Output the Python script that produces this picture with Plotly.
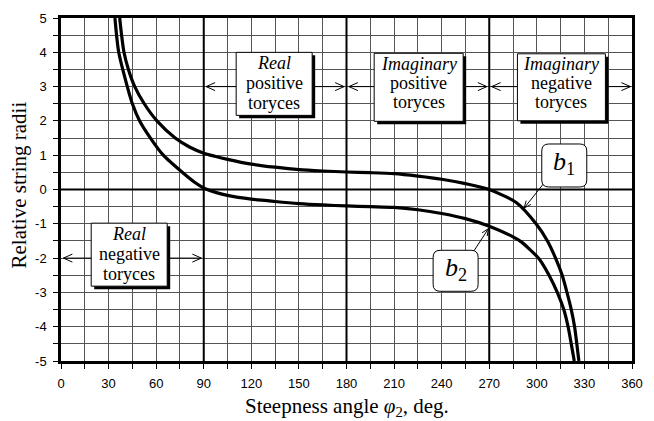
import math
import plotly.graph_objects as go

# Relative string radii b1, b2 versus steepness angle phi2 (deg)
phi_b1 = [37, 38.2, 39.7, 42.5, 46.5, 52.5, 60.5, 72, 81, 90, 97, 105, 120,
          135, 150, 165, 180, 195, 210, 225, 240, 255, 270, 287, 299.5, 306.7,
          311.8, 316, 319, 321.7, 323.8, 325.2, 326.5]
b1 = [5, 4.5, 4, 3.5, 3, 2.5, 2, 1.5, 1.24, 1.06, 0.97, 0.88, 0.74,
      0.65, 0.58, 0.54, 0.51, 0.49, 0.46, 0.39, 0.30, 0.17, 0.0, -0.38, -1.0,
      -1.5, -2, -2.5, -3, -3.5, -4, -4.5, -5]

phi_b2 = [34, 36.4, 41.8, 45, 49.6, 56.4, 64.5, 77, 84, 91, 98, 105, 120,
          135, 150, 165, 180, 195, 210, 225, 240, 255, 270, 285, 290, 301,
          307.7, 312.9, 317, 319.7, 321.7, 323.6]
b2 = [5, 4, 3, 2.5, 2, 1.5, 1, 0.48, 0.22, 0.02, -0.09, -0.17, -0.28,
      -0.35, -0.41, -0.45, -0.48, -0.5, -0.52, -0.59, -0.70, -0.85, -1.07,
      -1.38, -1.52, -2, -2.5, -3, -3.5, -4, -4.5, -5]

x_ticks = list(range(0, 361, 30))
y_ticks = list(range(-5, 6))

# Toryce regions along the angle axis
region_kind = ["Real", "Real", "Imaginary", "Imaginary"]
region_sign = ["negative", "positive", "positive", "negative"]
region_cx = [43.0, 134.4, 225.5, 315.5]
region_cy = [-1.9, 3.08, 2.98, 2.98]
region_w = [76, 76, 89, 88]
region_h = [63, 63, 68, 67]
span_from = [1.5, 91.5, 181.5, 271.5]
span_to = [88.5, 178.5, 268.5, 359.0]
span_y = [-2, 3, 3, 3]

# Curve labels with pointers
label_text = ["<i>b</i><sub>1</sub>", "<i>b</i><sub>2</sub>"]
label_cx = [317.3, 248.8]
label_cy = [0.7, -2.37]
label_w = [45, 45]
label_h = [43, 41]
tip_x = [292.0, 269.5]
tip_y = [-0.54, -1.14]
tail_dx = [20, -15]   # pixels, x to the right
tail_dy = [25, -23]   # pixels, y upwards

SERIF = "Liberation Serif"
SANS = "Liberation Sans"
GRID = "#555555"

fig = go.Figure()
fig.add_trace(go.Scatter(x=phi_b1, y=b1, mode="lines", name="b1",
                         line=dict(color="black", width=3.2, shape="spline", smoothing=0.7)))
fig.add_trace(go.Scatter(x=phi_b2, y=b2, mode="lines", name="b2",
                         line=dict(color="black", width=3.2, shape="spline", smoothing=0.7)))

shapes = []
annotations = []

# heavy quadrant lines and zero line
for xv in (90, 180, 270):
    shapes.append(dict(type="line", xref="x", yref="y", x0=xv, x1=xv, y0=-5, y1=5,
                       line=dict(color="black", width=2), layer="between"))
shapes.append(dict(type="line", xref="x", yref="y", x0=0, x1=360, y0=0, y1=0,
                   line=dict(color="black", width=2), layer="between"))


def pix_shape(xa, ya, path, **kw):
    d = dict(type="path", xref="x", yref="y", xsizemode="pixel", ysizemode="pixel",
             xanchor=xa, yanchor=ya, path=path, layer="above",
             line=dict(color="black", width=1))
    d.update(kw)
    return d


def rounded_path(w, h, r):
    x0, x1, y0, y1 = -w / 2, w / 2, -h / 2, h / 2
    return (f"M{x0 + r},{y0} L{x1 - r},{y0} Q{x1},{y0} {x1},{y0 + r} "
            f"L{x1},{y1 - r} Q{x1},{y1} {x1 - r},{y1} L{x0 + r},{y1} "
            f"Q{x0},{y1} {x0},{y1 - r} L{x0},{y0 + r} Q{x0},{y0} {x0 + r},{y0} Z")


def head_path(dx, dy, length, half):
    # open V head at the origin, opening towards (dx, dy)
    n = math.hypot(dx, dy)
    ux, uy = dx / n, dy / n
    px, py = -uy, ux
    a = (ux * length + px * half, uy * length + py * half)
    b = (ux * length - px * half, uy * length - py * half)
    return f"M{a[0]:.2f},{a[1]:.2f} L0,0 L{b[0]:.2f},{b[1]:.2f}"


for i in range(4):
    yv = span_y[i]
    shapes.append(dict(type="line", xref="x", yref="y", x0=span_from[i], x1=span_to[i],
                       y0=yv, y1=yv, line=dict(color="black", width=1), layer="above"))
    shapes.append(pix_shape(span_from[i], yv, head_path(1, 0, 9, 4)))
    shapes.append(pix_shape(span_to[i], yv, head_path(-1, 0, 9, 4)))
    w, h = region_w[i], region_h[i]
    # drop shadow, then the white box
    shapes.append(dict(type="rect", xref="x", yref="y", xsizemode="pixel", ysizemode="pixel",
                       xanchor=region_cx[i], yanchor=region_cy[i],
                       x0=-w / 2 + 3, x1=w / 2 + 3, y0=-h / 2 - 3, y1=h / 2 - 3,
                       fillcolor="black", line=dict(width=0), layer="above"))
    shapes.append(dict(type="rect", xref="x", yref="y", xsizemode="pixel", ysizemode="pixel",
                       xanchor=region_cx[i], yanchor=region_cy[i],
                       x0=-w / 2, x1=w / 2, y0=-h / 2, y1=h / 2,
                       fillcolor="white", line=dict(color="black", width=1), layer="above"))
    offs = [-21, -1, 19] if region_kind[i] == "Real" else [-23, -4, 15]
    lines = [f"<i>{region_kind[i]}</i>", region_sign[i], "toryces"]
    for t, o in zip(lines, offs):
        annotations.append(dict(x=region_cx[i], y=region_cy[i], xref="x", yref="y",
                                yshift=-o, text=t, showarrow=False,
                                font=dict(family=SERIF, size=18, color="black")))

for i in range(2):
    dx, dy = tail_dx[i], tail_dy[i]
    shapes.append(pix_shape(tip_x[i], tip_y[i],
                            f"M{dx},{dy} L0,0 " + head_path(dx, dy, 7, 3)))
    shapes.append(pix_shape(label_cx[i], label_cy[i],
                            rounded_path(label_w[i], label_h[i], 7), fillcolor="white"))
    annotations.append(dict(x=label_cx[i], y=label_cy[i], xref="x", yref="y",
                            text=label_text[i], showarrow=False, yshift=2,
                            font=dict(family=SERIF, size=26, color="black")))

# axis titles
annotations.append(dict(x=0.5, y=0, xref="paper", yref="paper", yshift=-46,
                        xanchor="center", yanchor="middle", showarrow=False,
                        text="Steepness angle <i>φ</i><sub>2</sub>, deg.",
                        font=dict(family=SERIF, size=21, color="black")))
annotations.append(dict(x=0, y=0.5, xref="paper", yref="paper", xshift=-43, yshift=4,
                        xanchor="center", yanchor="middle", showarrow=False,
                        textangle=-90, text="Relative string radii",
                        font=dict(family=SERIF, size=21, color="black")))

axis_common = dict(showgrid=True, gridcolor=GRID, gridwidth=1, zeroline=False,
                   showline=True, linecolor="black", linewidth=2.5, mirror=True,
                   ticks="outside", ticklen=5, tickcolor="black", tickwidth=1,
                   tickfont=dict(family=SANS, size=13, color="black"),
                   ticklabelstandoff=4)

fig.update_layout(
    width=654, height=421,
    margin=dict(l=61, r=11, t=11, b=60),
    paper_bgcolor="white", plot_bgcolor="white",
    showlegend=False,
    shapes=shapes,
    annotations=annotations,
    xaxis=dict(range=[0, 360], tickvals=x_ticks, ticktext=[str(v) for v in x_ticks],
               minor=dict(dtick=15, tick0=0, showgrid=True, gridcolor=GRID, gridwidth=1,
                          ticks="outside", ticklen=5, tickcolor="black"),
               **axis_common),
    yaxis=dict(range=[-5, 5], tickvals=y_ticks, ticktext=[str(v) for v in y_ticks],
               minor=dict(dtick=0.5, tick0=0, showgrid=True, gridcolor=GRID, gridwidth=1,
                          ticks="outside", ticklen=5, tickcolor="black"),
               **axis_common),
)

fig.write_html("out.html")
